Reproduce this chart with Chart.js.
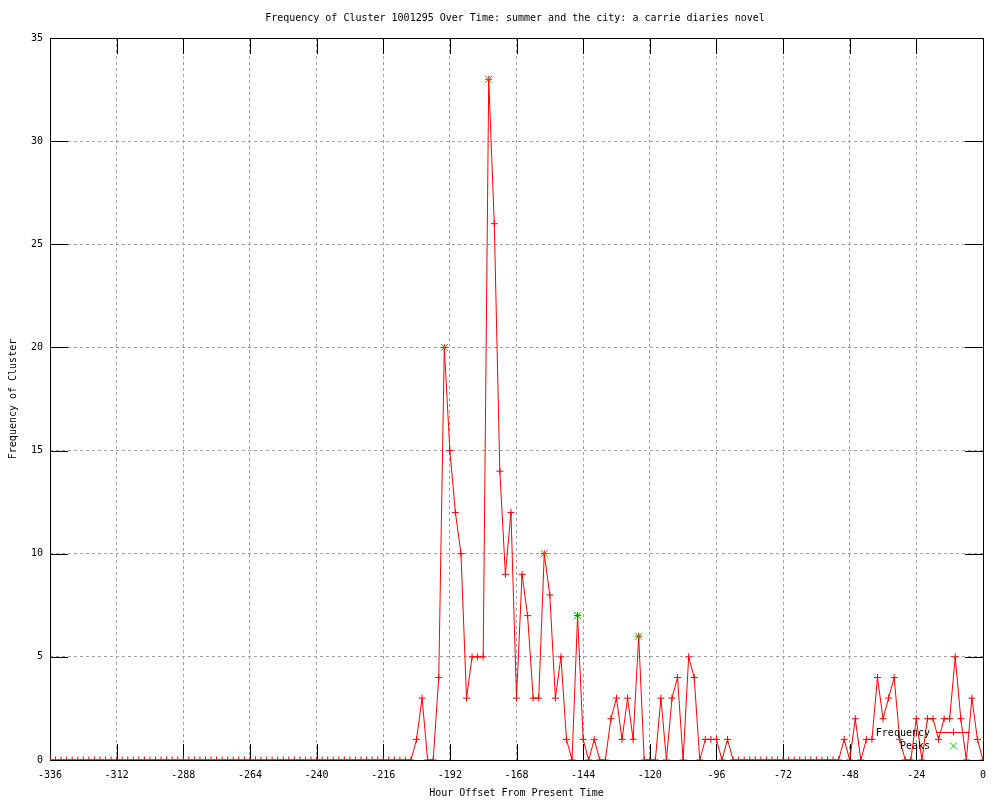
<!DOCTYPE html>
<html>
<head>
<meta charset="utf-8">
<script src="https://cdn.jsdelivr.net/npm/chart.js@4.4.1/dist/chart.umd.min.js"></script>
<style>
  html, body { margin:0; padding:0; background:#fff; }
  canvas { display:block; }
</style>
</head>
<body>
<canvas id="c" width="1000" height="800"></canvas>
<script>
/* frequency of cluster, sampled every 2 hours */
const hours = [
  -336,-334,-332,-330,-328,-326,-324,-322,-320,-318,-316,-314,-312,-310,-308,-306,-304,-302,-300,-298,
  -296,-294,-292,-290,-288,-286,-284,-282,-280,-278,-276,-274,-272,-270,-268,-266,-264,-262,-260,-258,
  -256,-254,-252,-250,-248,-246,-244,-242,-240,-238,-236,-234,-232,-230,-228,-226,-224,-222,-220,-218,
  -216,-214,-212,-210,-208,-206,-204,-202,-200,-198,-196,-194,-192,-190,-188,-186,-184,-182,-180,-178,
  -176,-174,-172,-170,-168,-166,-164,-162,-160,-158,-156,-154,-152,-150,-148,-146,-144,-142,-140,-138,
  -136,-134,-132,-130,-128,-126,-124,-122,-120,-118,-116,-114,-112,-110,-108,-106,-104,-102,-100,-98,
  -96,-94,-92,-90,-88,-86,-84,-82,-80,-78,-76,-74,-72,-70,-68,-66,-64,-62,-60,-58,
  -56,-54,-52,-50,-48,-46,-44,-42,-40,-38,-36,-34,-32,-30,-28,-26,-24,-22,-20,-18,
  -16,-14,-12,-10,-8,-6,-4,-2,0
];
const freq = [
  0,0,0,0,0,0,0,0,0,0,0,0,0,0,0,0,0,0,0,0,
  0,0,0,0,0,0,0,0,0,0,0,0,0,0,0,0,0,0,0,0,
  0,0,0,0,0,0,0,0,0,0,0,0,0,0,0,0,0,0,0,0,
  0,0,0,0,0,0,1,3,0,0,4,20,15,12,10,3,5,5,5,33,
  26,14,9,12,3,9,7,3,3,10,8,3,5,1,0,7,1,0,1,0,
  0,2,3,1,3,1,6,0,0,0,3,0,3,4,0,5,4,0,1,1,
  1,0,1,0,0,0,0,0,0,0,0,0,0,0,0,0,0,0,0,0,
  0,0,0,1,0,2,0,1,1,4,2,3,4,1,0,0,2,0,2,2,
  1,2,2,5,2,0,3,1,0
];
const peakHours  = [-194, -178, -158, -146, -124];
const peakValues = [20, 33, 10, 7, 6];

const xTicks = [-336,-312,-288,-264,-240,-216,-192,-168,-144,-120,-96,-72,-48,-24,0];
const yTicks = [0,5,10,15,20,25,30,35];

const TITLE  = 'Frequency of Cluster 1001295 Over Time: summer and the city: a carrie diaries novel';
const FONT   = 'DejaVu Sans Mono';
const RED    = '#ff0000';
const GREEN  = '#00c000';

// gnuplot style frame: border + inward ticks on all four sides, title, key
const frame = {
  id: 'frame',
  beforeDatasetsDraw(chart) {
    const { ctx, chartArea: a, scales } = chart;
    ctx.save();
    ctx.strokeStyle = '#000';
    ctx.lineWidth = 1;
    ctx.beginPath();
    xTicks.forEach(v => {
      const x = Math.round(scales.x.getPixelForValue(v)) + 0.5;
      ctx.moveTo(x, a.bottom); ctx.lineTo(x, a.bottom - 16);
      ctx.moveTo(x, a.top);    ctx.lineTo(x, a.top + 16);
    });
    yTicks.forEach(v => {
      const y = Math.round(scales.y.getPixelForValue(v)) + 0.5;
      ctx.moveTo(a.left, y);  ctx.lineTo(a.left + 18, y);
      ctx.moveTo(a.right, y); ctx.lineTo(a.right - 18, y);
    });
    ctx.stroke();
    ctx.strokeRect(Math.round(a.left) + 0.5, Math.round(a.top) + 0.5,
                   Math.round(a.right - a.left), Math.round(a.bottom - a.top));
    ctx.restore();
  },
  afterDraw(chart) {
    const { ctx, chartArea: a } = chart;
    ctx.save();
    ctx.fillStyle = '#000';
    ctx.font = `10px "${FONT}"`;
    ctx.textBaseline = 'middle';
    ctx.textAlign = 'center';
    ctx.fillText(TITLE, 515, 18);

    // key, bottom right inside the plot
    const sx1 = a.right - 46, sx2 = a.right - 13, sx = (sx1 + sx2) / 2;
    const y1 = a.bottom - 28, y2 = a.bottom - 14;
    ctx.textAlign = 'right';
    ctx.fillText('Frequency', a.right - 53, y1 + 1);
    ctx.fillText('Peaks', a.right - 53, y2);
    ctx.strokeStyle = RED;
    ctx.lineWidth = 1;
    ctx.beginPath();
    ctx.moveTo(sx1, y1 + 0.5); ctx.lineTo(sx2, y1 + 0.5);
    ctx.moveTo(sx, y1 - 3.5); ctx.lineTo(sx, y1 + 3.5);
    ctx.stroke();
    ctx.strokeStyle = GREEN;
    ctx.beginPath();
    ctx.moveTo(sx - 3.5, y2 - 3.5); ctx.lineTo(sx + 3.5, y2 + 3.5);
    ctx.moveTo(sx - 3.5, y2 + 3.5); ctx.lineTo(sx + 3.5, y2 - 3.5);
    ctx.stroke();
    ctx.restore();
  }
};

new Chart(document.getElementById('c').getContext('2d'), {
  type: 'line',
  data: {
    datasets: [
      {
        label: 'Frequency',
        data: hours.map((h, i) => ({ x: h, y: freq[i] })),
        borderColor: RED, borderWidth: 1, tension: 0,
        pointStyle: 'cross', pointRadius: 3.5, pointBorderWidth: 1,
        pointBorderColor: RED, pointBackgroundColor: RED,
        order: 1,
      },
      {
        label: 'Peaks',
        data: peakHours.map((h, i) => ({ x: h, y: peakValues[i] })),
        showLine: false,
        pointStyle: 'crossRot', pointRadius: 5, pointBorderWidth: 1,
        pointBorderColor: GREEN, pointBackgroundColor: GREEN,
        order: 0,
      },
    ],
  },
  options: {
    responsive: false,
    animation: false,
    layout: { padding: { top: 38, right: 17, left: 0, bottom: 0 } },
    scales: {
      x: {
        type: 'linear', min: -336, max: 0,
        afterBuildTicks: s => { s.ticks = xTicks.map(v => ({ value: v })); },
        afterFit: s => { s.height = 40; },
        ticks: { color:'#000', font:{ family:FONT, size:10 }, padding: 9, maxRotation: 0,
                 callback: v => String(v) },
        grid: { color:'#a0a0a0', lineWidth:1, drawTicks:false },
        border: { display:false, dash:[3,3] },
        title: { display:true, text:'Hour Offset From Present Time', color:'#000',
                 font:{ family:FONT, size:10 }, padding:{ top:0, bottom:1 } },
      },
      y: {
        type: 'linear', min: 0, max: 35,
        afterBuildTicks: s => { s.ticks = yTicks.map(v => ({ value: v })); },
        afterFit: s => { s.width = 50; },
        ticks: { color:'#000', font:{ family:FONT, size:10 }, padding: 7,
                 callback: v => String(v) },
        grid: { color:'#a0a0a0', lineWidth:1, drawTicks:false },
        border: { display:false, dash:[3,3] },
        title: { display:true, text:'Frequency of Cluster', color:'#000',
                 font:{ family:FONT, size:10 }, padding:{ top:7, bottom:0 } },
      },
    },
    plugins: {
      legend: { display:false },
      title: { display:false },
      tooltip: { enabled:false },
    },
  },
  plugins: [frame],
});
</script>
</body>
</html>
